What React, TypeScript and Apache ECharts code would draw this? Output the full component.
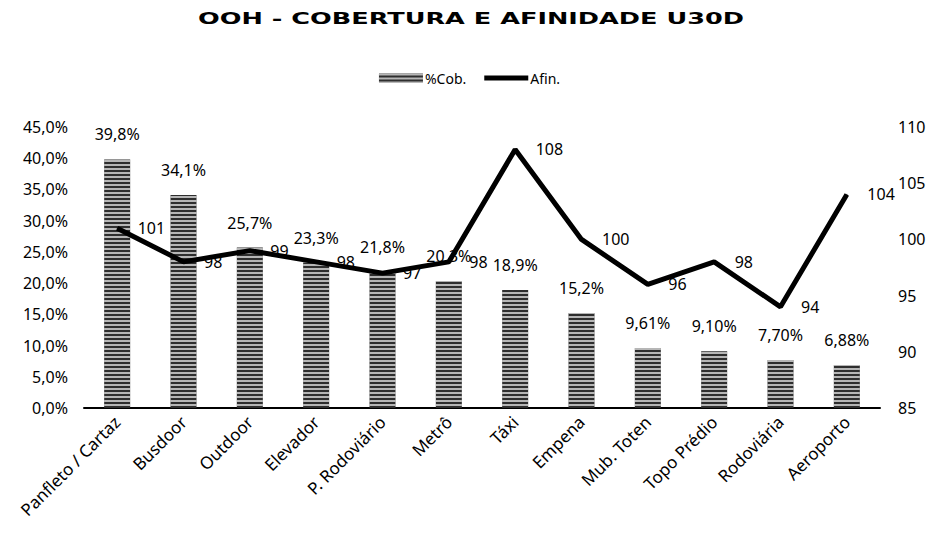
import React, { useEffect, useRef } from "react";
import * as echarts from "echarts";

const categories = [
  "Panfleto / Cartaz",
  "Busdoor",
  "Outdoor",
  "Elevador",
  "P. Rodoviário",
  "Metrô",
  "Táxi",
  "Empena",
  "Mub. Toten",
  "Topo Prédio",
  "Rodoviária",
  "Aeroporto",
];
const cobertura = [39.8, 34.1, 25.7, 23.3, 21.8, 20.3, 18.9, 15.2, 9.61, 9.1, 7.7, 6.88];
const afinidade = [101, 98, 99, 98, 97, 98, 108, 100, 96, 98, 94, 104];
const titleText = "OOH - COBERTURA E AFINIDADE U30D";

const FONT = "Noto Sans";

function fmtPct(v: number, digits: number) {
  return v.toFixed(digits).replace(".", ",") + "%";
}

export default function App() {
  const ref = useRef<HTMLDivElement>(null);
  useEffect(() => {
    if (!ref.current) return;
    const chart = echarts.init(ref.current, null, { renderer: "svg" });
    chart.setOption({
      animation: false,
      backgroundColor: "#ffffff",
      textStyle: { fontFamily: FONT, color: "#000" },
      graphic: [
        {
          type: "text",
          x: 471,
          y: 18,
          scaleX: 1.55,
          style: {
            text: titleText,
            fontFamily: "DejaVu Sans",
            fontWeight: "bold",
            fontSize: 16.5,
            fill: "#000",
            textAlign: "center",
            textVerticalAlign: "middle",
          },
        },
      ],
      legend: {
        top: 66,
        left: "center",
        itemWidth: 44,
        itemHeight: 9,
        itemGap: 18,
        textStyle: { fontFamily: FONT, fontSize: 14, color: "#000", padding: [0, 0, 0, -3] },
        data: [
          { name: "%Cob.", icon: "rect" },
          { name: "Afin.", icon: "path://M0,0H44V5H0Z", itemStyle: { color: "#000" } },
        ],
      },
      grid: { left: 84, right: 59, top: 127, bottom: 135 },
      xAxis: {
        type: "category",
        data: categories,
        axisLine: { lineStyle: { color: "#000", width: 2 } },
        axisTick: { show: false },
        axisLabel: {
          rotate: 45,
          margin: 11,
          interval: 0,
          fontFamily: FONT,
          fontSize: 17,
          color: "#000",
        },
      },
      yAxis: [
        {
          type: "value",
          min: 0,
          max: 45,
          interval: 5,
          splitLine: { show: false },
          axisLine: { show: false },
          axisTick: { show: false },
          axisLabel: {
            margin: 16,
            fontFamily: FONT,
            fontSize: 16,
            color: "#000",
            formatter: (v: number) => fmtPct(v, 1),
          },
        },
        {
          type: "value",
          min: 85,
          max: 110,
          interval: 5,
          splitLine: { show: false },
          axisLine: { show: false },
          axisTick: { show: false },
          axisLabel: {
            margin: 18,
            fontFamily: FONT,
            fontSize: 16,
            color: "#000",
          },
        },
      ],
      series: [
        {
          name: "%Cob.",
          type: "bar",
          data: cobertura,
          barWidth: 26,
          itemStyle: {
            color: "#2e2e2e",
            decal: {
              symbol: "rect",
              symbolSize: 1,
              dashArrayX: [[1, 0]],
              dashArrayY: [1.5, 1.5],
              rotation: 0,
              color: "rgba(255,255,255,0.65)",
            },
          },
          label: {
            show: true,
            position: "top",
            distance: 17,
            fontFamily: FONT,
            fontSize: 16,
            color: "#000",
            formatter: (p: any) => fmtPct(p.value, p.value < 10 ? 2 : 1),
          },
          z: 1,
        },
        {
          name: "Afin.",
          type: "line",
          yAxisIndex: 1,
          data: afinidade,
          showSymbol: true,
          symbol: "circle",
          symbolSize: 1,
          lineStyle: { color: "#000", width: 5 },
          itemStyle: { color: "#000" },
          label: {
            show: true,
            position: "right",
            distance: 20,
            fontFamily: FONT,
            fontSize: 16,
            color: "#000",
          },
          z: 3,
        },
      ],
    });
    return () => chart.dispose();
  }, []);
  return (
    <div
      ref={ref}
      style={{ position: "absolute", left: 0, top: 0, width: 939, height: 543 }}
    />
  );
}
